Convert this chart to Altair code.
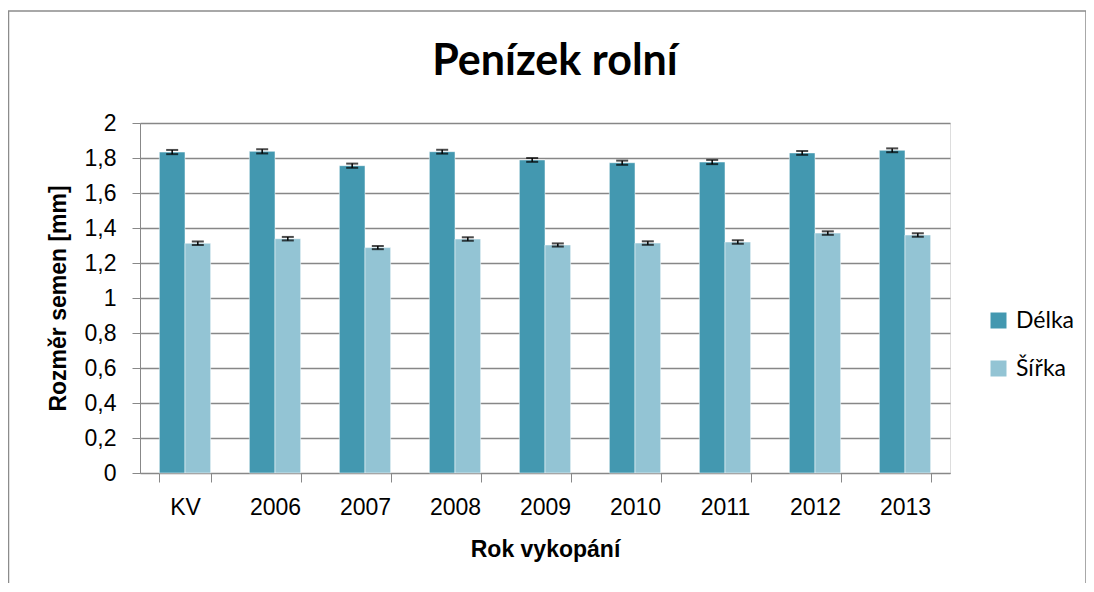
import altair as alt
import pandas as pd

categories = ["KV", "2006", "2007", "2008", "2009", "2010", "2011", "2012", "2013"]
series = ["Délka", "Šířka"]
colors = ["#4398B0", "#93C4D4"]
chart_title = "Penízek rolní"

delka = [1.834, 1.838, 1.756, 1.836, 1.789, 1.773, 1.777, 1.829, 1.844]
sirka = [1.313, 1.339, 1.288, 1.337, 1.303, 1.314, 1.320, 1.371, 1.360]
delka_err = [0.012, 0.012, 0.012, 0.011, 0.011, 0.012, 0.012, 0.011, 0.011]
sirka_err = [0.010, 0.010, 0.009, 0.010, 0.009, 0.010, 0.010, 0.010, 0.010]
y_ticks = [0, 0.2, 0.4, 0.6, 0.8, 1, 1.2, 1.4, 1.6, 1.8, 2]

rows = []
for i, c in enumerate(categories):
    rows.append({"rok": c, "serie": series[0], "value": delka[i],
                 "lo": delka[i] - delka_err[i], "hi": delka[i] + delka_err[i]})
    rows.append({"rok": c, "serie": series[1], "value": sirka[i],
                 "lo": sirka[i] - sirka_err[i], "hi": sirka[i] + sirka_err[i]})
df = pd.DataFrame(rows)

FONT = "Lato"
GRID = "#878787"

x_axis = alt.Axis(title="Rok vykopání", labelAngle=0, tickBand="extent",
                  tickSize=9, labelPadding=14, titlePadding=19,
                  labelFontSize=23, titleFontSize=23, titleFontWeight="bold")
y_axis = alt.Axis(title="Rozměr semen [mm]", values=y_ticks, tickCount=11,
                  labelExpr="replace(format(datum.value, '.1~f'), '.', ',')",
                  labelOverlap=False,
                  tickSize=8, labelPadding=16, titlePadding=14,
                  labelFontSize=23, titleFontSize=23, titleFontWeight="bold",
                  grid=True, gridColor=GRID, gridWidth=1.5)
x_scale = alt.Scale(paddingInner=0.43, paddingOuter=0.215)
y_scale = alt.Scale(domain=[0, 2], nice=False)

x_enc = alt.X("rok:N", sort=categories, scale=x_scale, axis=x_axis)
xoff = alt.XOffset("serie:N", sort=series, scale=alt.Scale(domain=series, paddingInner=0, paddingOuter=0))

bars = alt.Chart(df).mark_bar(stroke="white", strokeOpacity=0.5, strokeWidth=1).encode(
    x=x_enc,
    xOffset=xoff,
    y=alt.Y("value:Q", scale=y_scale, axis=y_axis),
    color=alt.Color("serie:N", sort=series,
                    scale=alt.Scale(domain=series, range=colors),
                    legend=alt.Legend(title=None, orient="none", legendX=847, legendY=186,
                                      symbolType="square", symbolSize=256, symbolStrokeWidth=0,
                                      labelFontSize=23, labelFont=FONT, labelOffset=6,
                                      rowPadding=24)),
)

rules = alt.Chart(df).mark_rule(color="black", strokeWidth=1.5).encode(
    x=x_enc, xOffset=xoff,
    y=alt.Y("lo:Q", scale=y_scale, axis=y_axis), y2="hi:Q",
)
caps_lo = alt.Chart(df).mark_tick(color="black", size=12, thickness=2, orient="horizontal").encode(
    x=x_enc, xOffset=xoff,
    y=alt.Y("lo:Q", scale=y_scale, axis=y_axis),
)
caps_hi = alt.Chart(df).mark_tick(color="black", size=12, thickness=2, orient="horizontal").encode(
    x=x_enc, xOffset=xoff,
    y=alt.Y("hi:Q", scale=y_scale, axis=y_axis),
)

frame = alt.Chart(alt.Data(values=[{}])).mark_rect(
    fill=None, stroke="#8c8c8c", strokeWidth=1.5
).encode(x=alt.value(-131.5), x2=alt.value(946), y=alt.value(-112), y2=alt.value(600))

title = alt.Chart(alt.Data(values=[{"t": chart_title}])).mark_text(
    font=FONT, fontSize=43, fontWeight="bold", color="black", align="center", baseline="alphabetic"
).encode(x=alt.value(415), y=alt.value(-48), text="t:N")

chart = alt.layer(frame, bars, rules, caps_lo, caps_hi, title).properties(
    width=810, height=350,
    autosize=alt.AutoSizeParams(type="none"),
    padding={"left": 132, "top": 115, "right": 136, "bottom": 110},
).configure_axis(
    labelFont=FONT, titleFont=FONT, labelColor="black", titleColor="black",
    domainColor=GRID, domainWidth=1.5, tickColor=GRID, tickWidth=1.5,
).configure_axisX(grid=False).configure_view(stroke=GRID, strokeWidth=1.5).configure(
    background="white"
)

chart.save("out.html", embed_options={"renderer": "svg", "actions": False})
